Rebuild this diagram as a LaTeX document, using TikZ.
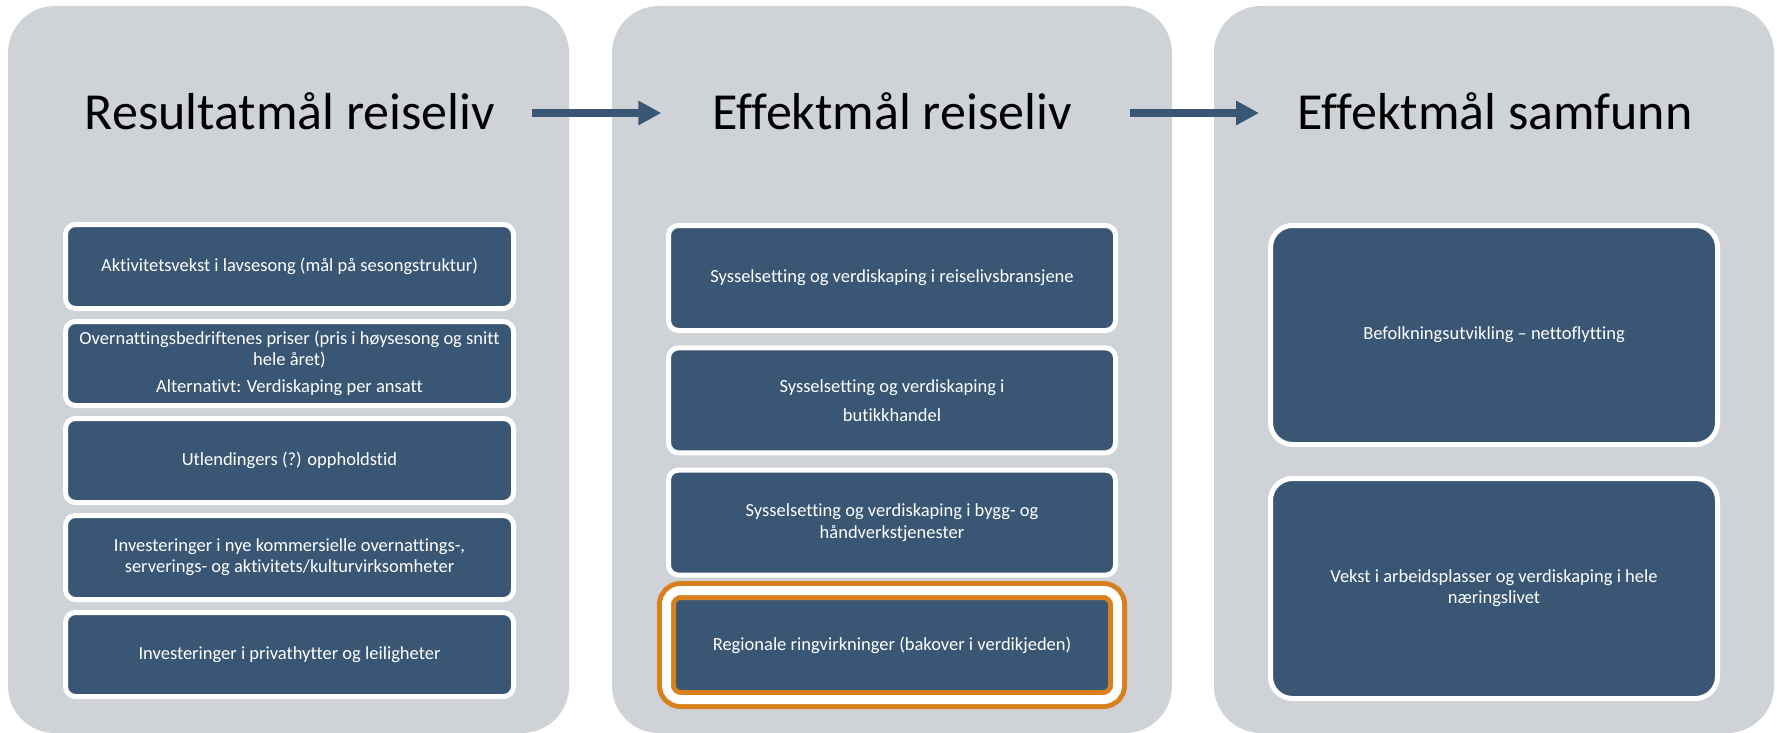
\documentclass[tikz,border=0pt]{standalone}
\usepackage{fontspec}
\setmainfont{Carlito}[Ligatures=NoCommon]
\usetikzlibrary{positioning,arrows.meta}
\definecolor{panelgray}{RGB}{207,211,216}
\definecolor{goalblue}{RGB}{58,86,117}
\definecolor{ringorange}{RGB}{217,128,30}
\begin{document}
\begin{tikzpicture}[x=1pt,y=-1pt,
		panel/.style={fill=panelgray, rounded corners=47pt, minimum width=560pt, minimum height=727pt, inner sep=0pt, outer sep=0pt},
		heading/.style={font=\fontsize{52}{60}\selectfont, text height=34pt, text depth=0pt, inner sep=0pt, outer sep=0pt},
		goal/.style={fill=goalblue, draw=white, line width=5pt, rounded corners=10pt, text=white, align=center, font=\fontsize{18.5}{21.3}\selectfont, minimum width=448pt, inner sep=0pt, outer sep=0pt},
		ring/.style={draw=ringorange, double=white, double distance=9pt, rounded corners=14pt},
		flow/.style={draw=goalblue, line width=8pt, -{Triangle[length=23pt 0 0, width=23pt 0 0]}}]
		\useasboundingbox (0,0) rectangle (1777,733);
		\node[panel, minimum width=561pt] (resP) at (288.5,369.5) {};
		\node[panel] (effP) at (892,369.5) {};
		\node[panel] (samP) at (1494,369.5) {};
		\node[heading] (resT) at (290,113) {Resultatmål reiseliv};
		\node[heading] (effT) at (892,113) {Effektmål reiseliv};
		\node[heading] (samT) at (1495,113) {Effektmål samfunn};
		\draw[flow, shorten <=36.5pt, shorten >=51pt] (resT) -- (effT);
		\draw[flow, shorten <=58pt, shorten >=38.5pt] (effT) -- (samT);
		\node[goal, minimum height=84pt] (akt) at (289.5,266.5) {Aktivitetsvekst i lavsesong (mål på sesongstruktur)};
		\node[goal, minimum height=84pt, below=13pt of akt] (pris) {Overnattingsbedriftenes priser (pris i høysesong og snitt\\ hele året)\\[6pt] Alternativt: Verdiskaping per ansatt};
		\node[goal, minimum height=84pt, below=13pt of pris] (opph) {Utlendingers (?) oppholdstid};
		\node[goal, minimum height=84pt, below=13pt of opph] (inv) {Investeringer i nye kommersielle overnattings-,\\ serverings- og aktivitets/kulturvirksomheter};
		\node[goal, minimum height=84pt, below=13pt of inv] (hytt) {Investeringer i privathytter og leiligheter};
		\node[goal, minimum width=447pt, minimum height=105pt] (sysR) at (892,278) {Sysselsetting og verdiskaping i reiselivsbransjene};
		\node[goal, minimum width=447pt, minimum height=105pt, below=17.3pt of sysR] (sysB) {Sysselsetting og verdiskaping i\\[8pt] butikkhandel};
		\node[goal, minimum width=447pt, minimum height=105pt, below=17.3pt of sysB] (sysH) {Sysselsetting og verdiskaping i bygg- og\\ håndverkstjenester};
		\node[goal, ring, minimum width=451pt, minimum height=109pt] (regR) at (892,645) {Regionale ringvirkninger (bakover i verdikjeden)};
		\node[goal, rounded corners=22pt, minimum width=447pt, minimum height=219pt] (bef) at (1494,335) {Befolkningsutvikling – nettoflytting};
		\node[goal, rounded corners=22pt, minimum width=447pt, minimum height=220pt, below=34pt of bef] (vekst) {Vekst i arbeidsplasser og verdiskaping i hele\\ næringslivet};
\end{tikzpicture}
\end{document}
